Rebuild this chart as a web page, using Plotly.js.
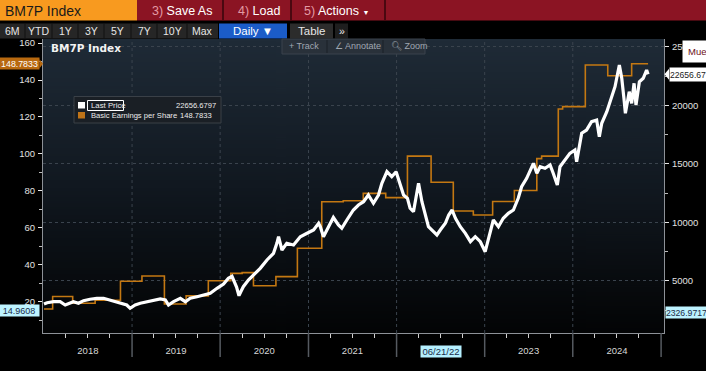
<!DOCTYPE html>
<html><head><meta charset="utf-8">
<script src="https://cdn.plot.ly/plotly-3.0.1.min.js"></script>
<style>html,body{margin:0;padding:0;background:#000;overflow:hidden}#chart{width:706px;height:371px}</style>
</head><body><div id="chart"></div>
<script>
// ---------- DATA ----------
const priceDates = ['2018-01-01','2018-01-14','2018-02-10','2018-03-09','2018-03-30','2018-04-20','2018-05-03','2018-05-24','2018-06-14','2018-07-11','2018-08-08','2018-09-05','2018-10-02','2018-10-23','2018-11-13','2018-12-10','2018-12-24','2019-01-14','2019-02-04','2019-03-04','2019-03-31','2019-04-28','2019-05-19','2019-06-01','2019-06-22','2019-07-20','2019-08-10','2019-08-30','2019-09-27','2019-10-25','2019-11-21','2019-12-19','2020-01-15','2020-02-04','2020-02-19','2020-03-09','2020-03-19','2020-03-26','2020-04-06','2020-04-27','2020-05-18','2020-06-15','2020-07-13','2020-08-09','2020-08-23','2020-08-30','2020-09-13','2020-10-03','2020-10-31','2020-11-28','2020-12-26','2021-01-22','2021-02-12','2021-02-19','2021-03-04','2021-03-18','2021-04-14','2021-05-05','2021-05-19','2021-06-09','2021-07-06','2021-07-27','2021-08-17','2021-09-06','2021-09-27','2021-10-18','2021-11-01','2021-11-22','2021-12-12','2021-12-30','2022-01-16','2022-01-30','2022-02-15','2022-02-26','2022-03-12','2022-04-02','2022-04-16','2022-04-30','2022-05-13','2022-06-03','2022-06-17','2022-07-01','2022-07-22','2022-08-05','2022-08-19','2022-09-02','2022-09-22','2022-10-13','2022-11-03','2022-11-23','2022-12-14','2023-01-03','2023-01-16','2023-02-06','2023-02-27','2023-03-19','2023-04-09','2023-04-30','2023-05-20','2023-06-03','2023-06-24','2023-07-08','2023-07-22','2023-08-05','2023-08-19','2023-09-08','2023-09-29','2023-10-12','2023-10-29','2023-11-09','2023-11-30','2023-12-20','2024-01-10','2024-01-17','2024-02-07','2024-02-27','2024-03-19','2024-04-09','2024-04-20','2024-04-30','2024-05-21','2024-06-10','2024-06-24','2024-07-12','2024-07-22','2024-07-31','2024-08-06','2024-08-22','2024-09-01','2024-09-11','2024-09-19','2024-10-03','2024-10-19','2024-11-02','2024-11-08'];
const priceValues = [3017,3128,3214,3214,2932,3077,3214,3077,3299,3419,3504,3504,3359,3214,3128,2932,2650,2932,3077,3214,3299,3444,3359,2932,3214,3504,3214,3504,3641,3786,3932,4359,4726,5214,5380,4470,3726,4043,4496,5068,5496,6068,6778,7350,8205,8769,7632,8205,8060,8769,9060,9342,9915,9624,8769,9342,10410,9769,9487,10197,11051,11479,11761,12333,11624,12333,13333,14325,13897,14325,13333,12333,12051,11197,10906,13333,11761,10769,9624,9197,8915,9342,9915,10624,11051,10342,9624,9060,8342,8769,8342,7487,8487,10197,9624,10342,10769,11051,12051,13043,13761,14470,15043,14188,14752,14615,14897,14188,13188,14752,15325,15897,16179,15179,17607,17889,18598,18743,17316,18462,19453,20735,21590,23444,22308,20598,19316,21163,20171,21880,20026,22017,22308,23017,22656.6797];

const epsDates = ['2018-01-01','2018-02-06','2018-04-30','2018-08-01','2018-11-14','2019-02-11','2019-05-15','2019-08-13','2019-11-13','2020-02-14','2020-04-01','2020-05-18','2020-08-19','2020-11-16','2021-02-25','2021-05-25','2021-08-16','2021-11-17','2022-02-15','2022-05-24','2022-08-24','2022-11-15','2023-02-03','2023-05-04','2023-08-05','2023-08-25','2023-11-02','2023-11-20','2024-02-22','2024-05-25','2024-09-01','2024-11-08'];
const epsValues = [16.0,22.8,19.1,20.7,31.0,33.9,18.7,23.1,31.3,35.3,35.7,28.6,33.5,48.9,74.1,74.6,78.6,76.3,98.8,84.6,69.1,66.9,74.2,80.2,97.4,98.8,124.3,125.6,148.1,142.3,148.7833,148.7833];

const yearLabels = ['2018','2019','2020','2021','2022','2023','2024'];
const cursorDateLabel = '06/21/22';
const leftTicks = [20,40,60,80,100,120,140,160];
const rightTicks = [5000,10000,15000,20000,25000];
const seriesNames = ['Last Price','Basic Earnings per Share'];
const lastPrice = '22656.6797';
const lastPriceFlag = '22656.67';
const lastEps = '148.7833';
const cursorLeft = 14.9608;
const cursorRight = 2326.9717;

// ---------- GEOMETRY HELPERS ----------
const NARROW = '"Liberation Sans",Arial,sans-serif';
const L=43,R=664,T=39,B=333,PW=R-L,PH=B-T;
const X=px=>(px-L)/PW, Y=py=>(B-py)/PH;
function rect(x0,y0,x1,y1,fill,extra){return Object.assign({type:'rect',xref:'paper',yref:'paper',x0:X(x0),x1:X(x1),y0:Y(y1),y1:Y(y0),fillcolor:fill,line:{width:0},layer:'above'},extra||{});}
function vline(px,y0,y1,color,w){return {type:'line',xref:'paper',yref:'paper',x0:X(px),x1:X(px),y0:Y(y0),y1:Y(y1),line:{color:color,width:w},layer:'above'};}
function txt(px,py,text,size,color,anchor,family,extra){return Object.assign({xref:'paper',yref:'paper',x:X(px),y:Y(py),text:text,showarrow:false,xanchor:anchor||'left',yanchor:'middle',font:{size:size,color:color,family:family||NARROW}},extra||{});}

// gradient background for the plot panel
const cv=document.createElement('canvas');cv.width=4;cv.height=300;
const cx=cv.getContext('2d');const g=cx.createLinearGradient(0,0,0,300);
g.addColorStop(0,'#1f2b37');g.addColorStop(0.5,'#111820');g.addColorStop(1,'#030405');
cx.fillStyle=g;cx.fillRect(0,0,4,300);
const gradURL=cv.toDataURL();

const yearMid = yearLabels.map(y=>y+'-07-02');
const yearText = yearLabels.map(y=>y==='2022'?'':y);
const yearBounds = yearLabels.map(y=>(+y+1)+'-01-01');
const quarterTicks=[];yearLabels.forEach(y=>['04','07','10'].forEach(m=>quarterTicks.push(y+'-'+m+'-01')));

const shapes=[];
yearBounds.slice(0,-1).forEach(d=>shapes.push({type:'line',xref:'x',yref:'paper',x0:d,x1:d,y0:0,y1:1,line:{color:'#3b444e',width:1,dash:'dot'},layer:'below'}));
yearBounds.forEach(d=>shapes.push({type:'line',xref:'x',yref:'paper',x0:d,x1:d,y0:0,y1:Y(357),line:{color:'#555a60',width:1.5},layer:'above'}));
// top bar
shapes.push(rect(0,0,137,20.5,'#f89a1f'));
shapes.push(rect(137,0,706,20.5,'#8b1423'));
[223,291,385].forEach(p=>shapes.push(vline(p,0,20.5,'#4a0810',2)));
// second row
shapes.push(rect(0,23.5,218,38.5,'#262626'));
[25,52,78,104,131,157,187].forEach(p=>shapes.push(vline(p,23.5,38.5,'#111111',1)));
shapes.push(rect(219,23.5,287,38.5,'#1b5cc8'));
shapes.push(rect(290,23.5,333,38.5,'#2c2c2c'));
shapes.push(rect(335,23.5,348,38.5,'#1e1e1e'));
// track toolbar
shapes.push(rect(282,39,425,54,'#29313a',{line:{color:'#3a434d',width:1}}));
[327,383].forEach(p=>shapes.push(vline(p,40,53,'#1a2027',1)));
// legend box
shapes.push(rect(74,96.5,221,123,'#1a1f25',{line:{color:'#3a4047',width:1}}));
shapes.push(rect(78,102,85,108.5,'#ffffff'));
shapes.push(rect(78,112,85,118.5,'#c07418'));
shapes.push(rect(87.5,100.5,123.5,110.5,'rgba(0,0,0,0)',{line:{color:'#ffffff',width:1}}));
// value flag arrows
const ly=1/1.8475, ry=1/0.0117;
shapes.push({type:'path',xref:'paper',yref:'y',path:`M ${X(39.5)},${148.7833+4.5*ly} L ${X(43)},148.7833 L ${X(39.5)},${148.7833-4.5*ly} Z`,fillcolor:'#b8690f',line:{width:0},layer:'above'});
shapes.push({type:'path',xref:'paper',yref:'y2',path:`M ${X(669)},${22656.68+5.5*ry} L ${X(664.5)},22656.68 L ${X(669)},${22656.68-5.5*ry} Z`,fillcolor:'#ffffff',line:{width:0},layer:'above'});

const flag=(xref_px,yref,yv,text,anchor,bg,fc,size,w)=>({xref:'paper',yref:yref,x:X(xref_px),y:yv,text:text,showarrow:false,xanchor:anchor,yanchor:'middle',bgcolor:bg,font:{size:size,color:fc,family:NARROW},width:w,height:11,borderpad:0,align:'center'});

const annotations=[
  txt(3,10.5,'BM7P Index',14,'#1a1a1a','left'),
  txt(150,10.5,'<span style="color:#e39aa3">3)</span> Save As',12.5,'#ffffff','left'),
  txt(236,10.5,'<span style="color:#e39aa3">4)</span> Load',12.5,'#ffffff','left'),
  txt(302,10.5,'<span style="color:#e39aa3">5)</span> Actions <span style="font-size:7px">▼</span>',12.5,'#ffffff','left'),
  txt(12.5,31,'6M',10.5,'#e6e6e6','center'),
  txt(38.5,31,'YTD',10.5,'#e6e6e6','center'),
  txt(65,31,'1Y',10.5,'#e6e6e6','center'),
  txt(91,31,'3Y',10.5,'#e6e6e6','center'),
  txt(117.5,31,'5Y',10.5,'#e6e6e6','center'),
  txt(144,31,'7Y',10.5,'#e6e6e6','center'),
  txt(172,31,'10Y',10.5,'#e6e6e6','center'),
  txt(202.5,31,'Max',10.5,'#e6e6e6','center'),
  txt(253,31,'Daily ▼',11.5,'#ffffff','center'),
  txt(311.5,31,'Table',11.5,'#e6e6e6','center'),
  txt(341.5,31,'»',10.5,'#e6e6e6','center'),
  txt(49,48.5,'<b>BM7P Index</b>',10.5,'#f2f2f2','left','"DejaVu Sans",sans-serif'),
  txt(287,46.5,'+ Track',9,'#a0a8b2','left'),
  txt(333,46.5,'∠ Annotate',9,'#a0a8b2','left'),
  txt(389,46.5,'🔍︎ Zoom',9,'#a0a8b2','left'),
  txt(88.5,105.5,seriesNames[0],7.8,'#ececec','left'),
  txt(217.5,105.5,lastPrice,7.6,'#ececec','right'),
  txt(88.5,115.5,seriesNames[1],7.6,'#ececec','left'),
  txt(178,115.5,lastEps,7.6,'#ececec','left'),
  flag(39.5,'y',+lastEps,lastEps,'right','#b8690f','#ffffff',8.8,39),
  flag(40,'y',cursorLeft,String(cursorLeft),'right','#bdf3ff','#1a2b48',9,40),
  flag(664.5,'y2',cursorRight,String(cursorRight),'left','#bdf3ff','#1a2b48',8.7,41),
  {xref:'paper',yref:'y2',x:X(669),y:22656.68,text:lastPriceFlag,showarrow:false,xanchor:'left',yanchor:'middle',bgcolor:'#ffffff',font:{size:8.6,color:'#222222',family:NARROW},width:37,height:13,borderpad:0,align:'left'},
  txt(682,51,'Mue',9.5,'#6b1020','left',NARROW,{bgcolor:'#ffffff',borderpad:5,width:20,align:'left'}),
  {xref:'x',yref:'paper',x:'2022-07-02',y:Y(351.5),text:cursorDateLabel,showarrow:false,xanchor:'center',yanchor:'middle',bgcolor:'#b5f0ff',font:{size:9.5,color:'#1a2b48',family:NARROW},width:40,height:11,borderpad:0}
];

const traces=[
  {type:'scatter',mode:'lines',x:epsDates,y:epsValues,name:seriesNames[1],line:{shape:'hv',color:'#c47812',width:1.6},yaxis:'y',hoverinfo:'skip'},
  {type:'scatter',mode:'lines',x:priceDates,y:priceValues,name:seriesNames[0],line:{color:'#ffffff',width:3.2},yaxis:'y2',hoverinfo:'skip'}
];

const layout={
  width:706,height:371,margin:{l:L,r:706-R,t:T,b:371-B,pad:0},
  paper_bgcolor:'#000000',plot_bgcolor:'rgba(0,0,0,0)',showlegend:false,
  images:[{source:gradURL,xref:'paper',yref:'paper',x:0,y:1,sizex:1,sizey:1,sizing:'stretch',xanchor:'left',yanchor:'top',layer:'below'}],
  xaxis:{type:'date',range:['2017-12-28','2025-01-13'],tickvals:yearMid,ticktext:yearText,ticks:'',showgrid:false,zeroline:false,showline:true,linecolor:'#8d9197',linewidth:1,
    tickfont:{size:9.5,color:'#d6d6d6',family:NARROW},ticklabelstandoff:9,
    minor:{tickvals:quarterTicks,ticks:'outside',ticklen:4,tickcolor:'#d0d0d0',tickwidth:1,showgrid:false},fixedrange:true},
  yaxis:{range:[3.0,162.2],tickvals:leftTicks,ticks:'outside',ticklen:4,tickcolor:'#e6e6e6',tickwidth:1,showgrid:false,zeroline:false,showline:true,linecolor:'#8d9197',linewidth:1,
    tickfont:{size:9.5,color:'#e0e0e0',family:NARROW},ticklabelstandoff:1,
    minor:{dtick:10,tick0:10,ticks:'outside',ticklen:3,tickcolor:'#bbbbbb',showgrid:false},fixedrange:true},
  yaxis2:{overlaying:'y',side:'right',range:[538,25667],tickvals:rightTicks,tickformat:'d',ticks:'outside',ticklen:4,tickcolor:'#e6e6e6',tickwidth:1,showgrid:true,gridcolor:'#3a434d',griddash:'dot',gridwidth:1,zeroline:false,showline:true,linecolor:'#8d9197',linewidth:1,
    tickfont:{size:9.5,color:'#e0e0e0',family:NARROW},ticklabelstandoff:1,
    minor:{dtick:2500,tick0:2500,ticks:'outside',ticklen:3,tickcolor:'#bbbbbb',showgrid:false},fixedrange:true},
  shapes:shapes,annotations:annotations
};
Plotly.newPlot('chart',traces,layout,{staticPlot:true,displayModeBar:false});
</script></body></html>
